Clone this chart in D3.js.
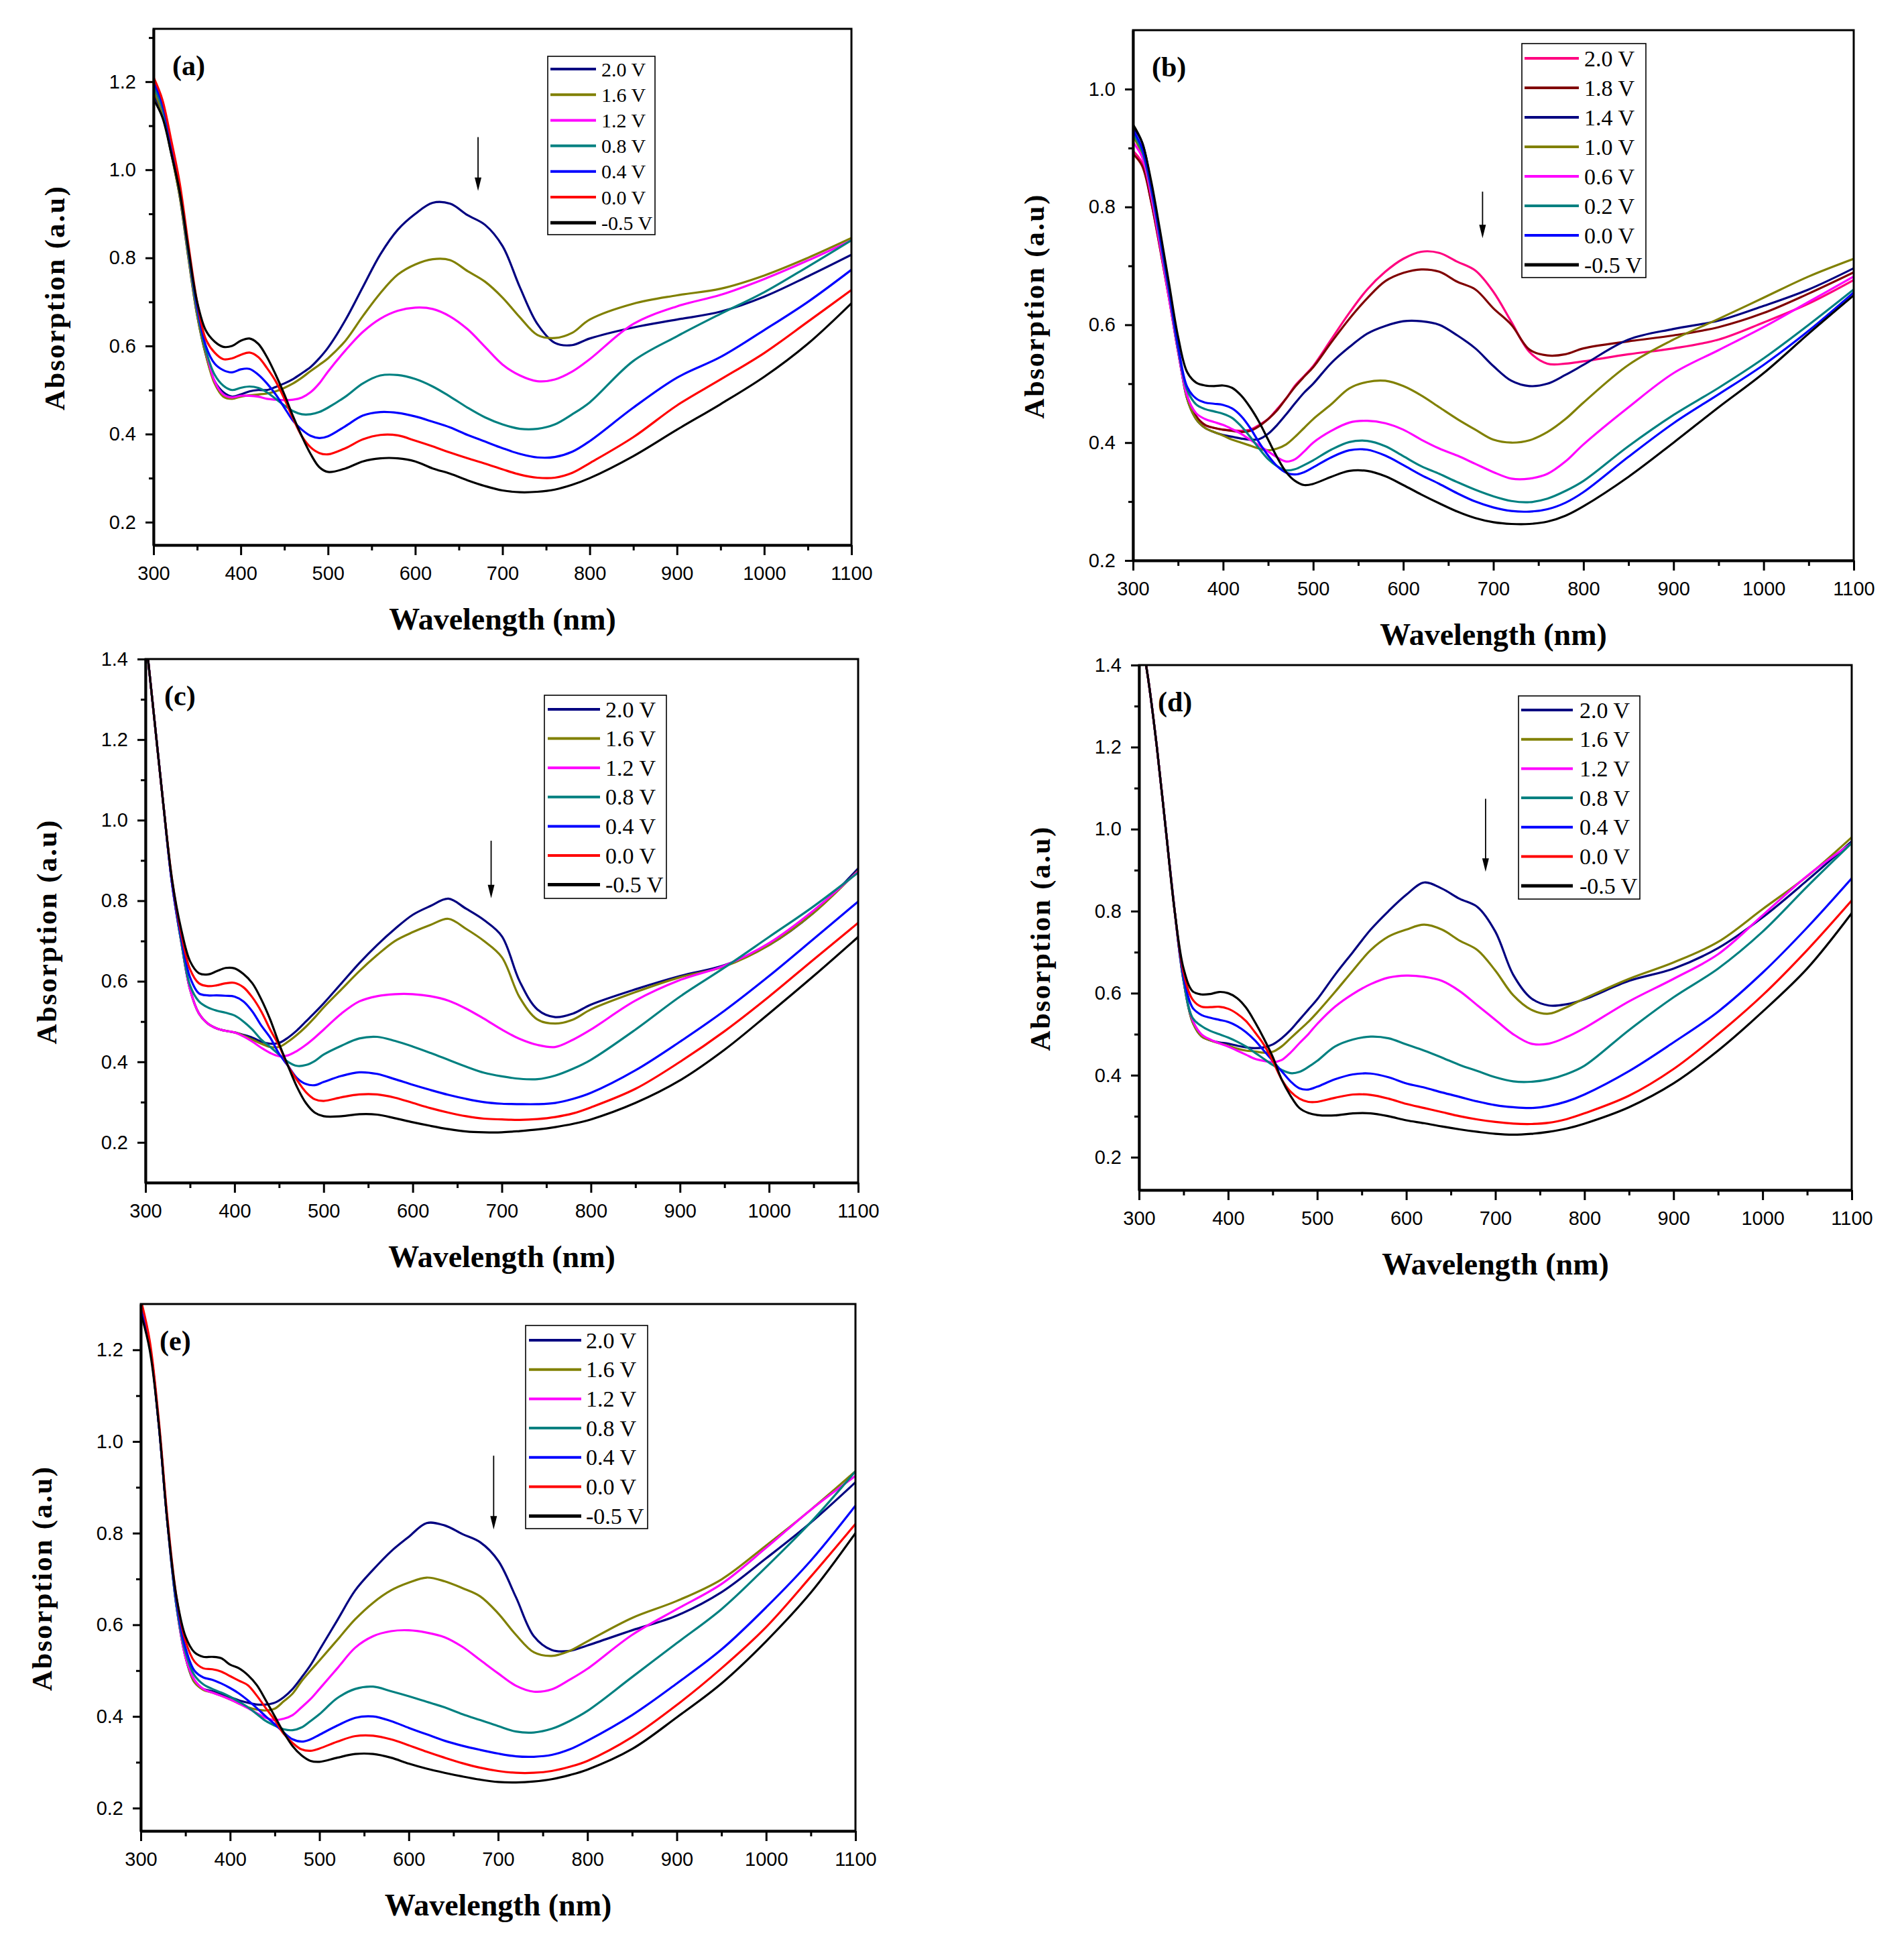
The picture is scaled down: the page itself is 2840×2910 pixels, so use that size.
<!DOCTYPE html>
<html><head><meta charset="utf-8">
<script src="https://cdn.jsdelivr.net/npm/d3@7"></script>
<style>
body{margin:0;background:#fff;}
svg{display:block;}
</style></head><body>
<script>
// ---------------- DATA ----------------
const WAVELENGTH = [300,310,320,330,340,350,360,370,380,390,400,410,420,430,440,450,460,470,480,490,500,520,540,560,580,600,620,640,660,680,700,720,740,760,780,800,850,900,950,1000,1050,1100];

const X_TICKS = [300,400,500,600,700,800,900,1000,1100];
const LEGEND_7 = ["2.0 V","1.6 V","1.2 V","0.8 V","0.4 V","0.0 V","-0.5 V"];
const LEGEND_B = ["2.0 V","1.8 V","1.4 V","1.0 V","0.6 V","0.2 V","0.0 V","-0.5 V"];
const COLORS_7 = ["#000080","#808000","#FF00FF","#008080","#0000FF","#FF0000","#000000"];
const COLORS_B = ["#FF0080","#800000","#000080","#808000","#FF00FF","#008080","#0000FF","#000000"];

const Y_TICKS_A = [0.2,0.4,0.6,0.8,1.0,1.2];
const Y_TICKS_B = [0.2,0.4,0.6,0.8,1.0];
const Y_TICKS_C = [0.2,0.4,0.6,0.8,1.0,1.2,1.4];
const Y_TICKS_D = [0.2,0.4,0.6,0.8,1.0,1.2,1.4];
const Y_TICKS_E = [0.2,0.4,0.6,0.8,1.0,1.2];

// panel (a)
const A_2_0 = [1.17,1.13,1.04,0.94,0.80,0.67,0.58,0.52,0.495,0.485, 0.49,0.497,0.50,0.50,0.507,0.515,0.525,0.538,0.552,0.572, 0.596,0.659,0.734,0.808,0.864,0.90,0.925,0.923,0.897,0.875, 0.827,0.733,0.65,0.607,0.602,0.617,0.642,0.66,0.678,0.712, 0.758,0.807];
const A_1_6 = [1.18,1.13,1.04,0.94,0.80,0.67,0.58,0.515,0.485,0.48, 0.485,0.488,0.49,0.492,0.497,0.505,0.515,0.528,0.543,0.557, 0.572,0.612,0.668,0.72,0.762,0.785,0.797,0.795,0.77,0.746, 0.71,0.665,0.625,0.618,0.63,0.66,0.696,0.715,0.73,0.76, 0.80,0.845];
const A_1_2 = [1.19,1.14,1.05,0.95,0.81,0.68,0.59,0.52,0.49,0.483, 0.487,0.487,0.485,0.48,0.478,0.477,0.478,0.483,0.495,0.515, 0.542,0.59,0.632,0.662,0.68,0.687,0.684,0.667,0.638,0.598, 0.558,0.533,0.52,0.524,0.542,0.57,0.65,0.69,0.716,0.752, 0.794,0.84];
const A_0_8 = [1.19,1.14,1.05,0.95,0.81,0.68,0.59,0.535,0.51,0.50, 0.505,0.508,0.505,0.495,0.48,0.465,0.452,0.445,0.445,0.45, 0.46,0.485,0.515,0.533,0.534,0.525,0.508,0.485,0.46,0.438, 0.422,0.412,0.412,0.422,0.445,0.472,0.566,0.622,0.673,0.722, 0.78,0.84];
const A_0_4 = [1.20,1.15,1.06,0.96,0.82,0.69,0.60,0.56,0.545,0.54, 0.547,0.548,0.535,0.515,0.49,0.46,0.43,0.41,0.396,0.391, 0.395,0.418,0.442,0.45,0.448,0.44,0.428,0.415,0.398,0.383, 0.368,0.355,0.347,0.348,0.36,0.384,0.46,0.528,0.575,0.636, 0.70,0.773];
const A_0_0 = [1.21,1.16,1.07,0.97,0.83,0.70,0.615,0.585,0.57,0.572, 0.58,0.585,0.575,0.55,0.52,0.48,0.435,0.395,0.37,0.357, 0.354,0.368,0.388,0.398,0.397,0.385,0.372,0.358,0.345,0.333, 0.32,0.308,0.301,0.301,0.312,0.334,0.393,0.465,0.524,0.584, 0.655,0.727];
const A_M0_5 = [1.16,1.12,1.04,0.95,0.82,0.70,0.635,0.61,0.598,0.60, 0.612,0.617,0.605,0.575,0.535,0.49,0.44,0.395,0.355,0.325, 0.314,0.322,0.338,0.345,0.345,0.338,0.322,0.31,0.295,0.282, 0.272,0.268,0.269,0.274,0.285,0.30,0.35,0.41,0.468,0.53, 0.605,0.697];

// panel (b)
const B_2_0 = [0.895,0.875,0.81,0.73,0.645,0.555,0.48,0.445,0.43,0.425, 0.422,0.421,0.42,0.422,0.43,0.44,0.457,0.475,0.497,0.513, 0.53,0.575,0.62,0.66,0.69,0.712,0.724,0.722,0.707,0.692, 0.656,0.605,0.554,0.534,0.534,0.538,0.55,0.56,0.575,0.604, 0.636,0.676];
const B_1_8 = [0.89,0.87,0.81,0.73,0.645,0.555,0.48,0.445,0.43,0.425, 0.422,0.42,0.418,0.42,0.428,0.44,0.455,0.475,0.495,0.512, 0.528,0.57,0.61,0.645,0.674,0.688,0.694,0.69,0.673,0.66, 0.628,0.60,0.558,0.548,0.55,0.56,0.572,0.582,0.596,0.62, 0.653,0.689];
const B_1_4 = [0.935,0.91,0.84,0.75,0.655,0.56,0.475,0.44,0.425,0.418, 0.413,0.41,0.407,0.405,0.406,0.415,0.43,0.448,0.467,0.485, 0.50,0.535,0.562,0.585,0.598,0.606,0.606,0.60,0.582,0.56, 0.53,0.505,0.496,0.50,0.515,0.532,0.575,0.593,0.607,0.632, 0.66,0.696];
const B_1_0 = [0.92,0.89,0.83,0.745,0.655,0.56,0.475,0.44,0.425,0.418, 0.412,0.405,0.40,0.395,0.39,0.387,0.39,0.397,0.41,0.425, 0.44,0.465,0.492,0.503,0.505,0.496,0.48,0.46,0.44,0.422, 0.405,0.40,0.404,0.418,0.44,0.468,0.532,0.575,0.61,0.646, 0.682,0.712];
const B_0_6 = [0.91,0.885,0.82,0.735,0.645,0.555,0.48,0.45,0.44,0.435, 0.43,0.423,0.415,0.405,0.395,0.385,0.375,0.368,0.372,0.385, 0.40,0.42,0.434,0.437,0.433,0.422,0.405,0.39,0.378,0.364, 0.35,0.339,0.339,0.347,0.368,0.397,0.46,0.518,0.557,0.596, 0.639,0.682];
const B_0_2 = [0.925,0.895,0.83,0.745,0.655,0.56,0.49,0.465,0.457,0.453, 0.449,0.442,0.428,0.41,0.39,0.372,0.36,0.353,0.355,0.362, 0.37,0.388,0.401,0.403,0.394,0.377,0.36,0.347,0.333,0.32, 0.309,0.301,0.299,0.305,0.318,0.335,0.394,0.447,0.493,0.543, 0.60,0.66];
const B_0_0 = [0.93,0.90,0.835,0.75,0.66,0.565,0.495,0.475,0.468,0.466, 0.464,0.458,0.445,0.425,0.40,0.378,0.36,0.349,0.346,0.35, 0.358,0.375,0.387,0.388,0.378,0.362,0.345,0.33,0.314,0.30, 0.29,0.284,0.283,0.287,0.298,0.316,0.376,0.433,0.482,0.532, 0.59,0.655];
const B_M0_5 = [0.94,0.91,0.845,0.76,0.67,0.58,0.52,0.502,0.497,0.496, 0.497,0.493,0.48,0.46,0.435,0.405,0.375,0.35,0.335,0.328, 0.33,0.342,0.352,0.352,0.343,0.328,0.312,0.297,0.283,0.272, 0.265,0.262,0.262,0.266,0.276,0.292,0.342,0.40,0.46,0.518, 0.585,0.65];

// panel (c)
const C_2_0 = [1.46,1.25,1.04,0.84,0.70,0.58,0.52,0.495,0.483,0.477, 0.473,0.467,0.46,0.45,0.445,0.447,0.46,0.478,0.50,0.522, 0.545,0.595,0.645,0.69,0.73,0.765,0.787,0.805,0.78,0.752, 0.712,0.60,0.53,0.511,0.52,0.542,0.58,0.613,0.64,0.69, 0.77,0.88];
const C_1_6 = [1.46,1.25,1.04,0.84,0.70,0.58,0.52,0.495,0.483,0.477, 0.473,0.465,0.455,0.445,0.437,0.437,0.45,0.467,0.487,0.51, 0.535,0.58,0.625,0.665,0.70,0.722,0.74,0.755,0.73,0.70, 0.66,0.56,0.505,0.495,0.505,0.53,0.573,0.61,0.637,0.69, 0.77,0.875];
const C_1_2 = [1.46,1.25,1.04,0.84,0.70,0.58,0.52,0.495,0.483,0.477, 0.473,0.463,0.45,0.435,0.422,0.414,0.416,0.427,0.442,0.46, 0.48,0.52,0.55,0.563,0.568,0.568,0.563,0.552,0.532,0.507, 0.48,0.457,0.442,0.437,0.455,0.48,0.552,0.603,0.639,0.695, 0.776,0.873];
const C_0_8 = [1.46,1.25,1.04,0.84,0.70,0.59,0.55,0.535,0.527,0.522, 0.515,0.50,0.48,0.455,0.437,0.418,0.40,0.39,0.392,0.402, 0.418,0.44,0.458,0.462,0.452,0.438,0.422,0.405,0.388,0.373, 0.364,0.358,0.357,0.366,0.383,0.405,0.48,0.562,0.634,0.71, 0.786,0.87];
const C_0_4 = [1.46,1.25,1.04,0.84,0.71,0.61,0.57,0.565,0.565,0.564, 0.562,0.55,0.525,0.49,0.46,0.42,0.39,0.36,0.345,0.342, 0.35,0.365,0.374,0.37,0.357,0.343,0.33,0.318,0.308,0.30, 0.296,0.295,0.295,0.298,0.308,0.323,0.379,0.45,0.527,0.613, 0.705,0.798];
const C_0_0 = [1.46,1.25,1.04,0.85,0.72,0.63,0.595,0.588,0.59,0.595, 0.596,0.585,0.56,0.525,0.48,0.44,0.39,0.355,0.325,0.307, 0.303,0.312,0.319,0.319,0.311,0.298,0.285,0.274,0.265,0.259, 0.257,0.256,0.258,0.263,0.272,0.287,0.333,0.40,0.476,0.562, 0.654,0.745];
const C_M0_5 = [1.46,1.25,1.04,0.85,0.73,0.65,0.62,0.617,0.625,0.633, 0.632,0.618,0.595,0.555,0.505,0.445,0.39,0.338,0.298,0.274, 0.265,0.265,0.27,0.269,0.26,0.25,0.241,0.233,0.227,0.225, 0.225,0.228,0.232,0.238,0.246,0.257,0.298,0.354,0.43,0.52, 0.613,0.71];

// panel (d)
const D_2_0 = [1.5,1.37,1.2,1.0,0.8,0.63,0.53,0.495,0.485,0.48, 0.477,0.472,0.468,0.466,0.468,0.475,0.49,0.51,0.535,0.56, 0.585,0.645,0.70,0.755,0.80,0.84,0.87,0.855,0.83,0.81, 0.75,0.645,0.588,0.57,0.573,0.585,0.63,0.66,0.71,0.785, 0.875,0.97];
const D_1_6 = [1.5,1.37,1.2,1.0,0.8,0.63,0.53,0.495,0.485,0.478, 0.472,0.465,0.46,0.458,0.455,0.457,0.47,0.49,0.51,0.53, 0.553,0.603,0.655,0.705,0.738,0.755,0.767,0.755,0.728,0.705, 0.655,0.595,0.56,0.55,0.566,0.587,0.635,0.675,0.725,0.805, 0.885,0.98];
const D_1_2 = [1.5,1.37,1.2,1.0,0.8,0.63,0.535,0.50,0.487,0.478, 0.47,0.46,0.45,0.44,0.435,0.432,0.437,0.455,0.478,0.50, 0.525,0.567,0.598,0.622,0.638,0.643,0.64,0.63,0.605,0.57, 0.535,0.50,0.477,0.477,0.493,0.515,0.58,0.635,0.695,0.79, 0.886,0.966];
const D_0_8 = [1.5,1.37,1.2,1.0,0.8,0.63,0.54,0.52,0.508,0.50, 0.492,0.482,0.47,0.455,0.44,0.425,0.413,0.405,0.408,0.42, 0.435,0.47,0.487,0.494,0.49,0.475,0.46,0.443,0.425,0.41, 0.395,0.385,0.384,0.39,0.403,0.423,0.51,0.59,0.66,0.75, 0.86,0.966];
const D_0_4 = [1.5,1.37,1.2,1.0,0.8,0.64,0.565,0.547,0.54,0.535, 0.53,0.52,0.505,0.485,0.46,0.435,0.41,0.385,0.368,0.365, 0.372,0.39,0.402,0.404,0.395,0.38,0.37,0.358,0.347,0.336, 0.327,0.322,0.32,0.325,0.336,0.353,0.41,0.48,0.555,0.65, 0.76,0.88];
const D_0_0 = [1.5,1.37,1.2,1.0,0.8,0.65,0.585,0.567,0.566,0.567, 0.562,0.55,0.532,0.505,0.475,0.435,0.39,0.36,0.343,0.335, 0.335,0.345,0.353,0.352,0.343,0.33,0.32,0.31,0.30,0.292, 0.286,0.282,0.281,0.284,0.293,0.307,0.35,0.415,0.50,0.595, 0.705,0.826];
const D_M0_5 = [1.5,1.37,1.2,1.0,0.8,0.66,0.605,0.597,0.598,0.603, 0.60,0.588,0.565,0.53,0.49,0.445,0.39,0.35,0.32,0.308, 0.303,0.302,0.307,0.307,0.30,0.29,0.283,0.275,0.268,0.262, 0.257,0.255,0.257,0.262,0.27,0.282,0.322,0.38,0.46,0.555, 0.66,0.795];

// panel (e)
const E_2_0 = [1.29,1.21,1.04,0.82,0.64,0.53,0.475,0.46,0.455,0.448, 0.442,0.435,0.43,0.426,0.426,0.43,0.442,0.46,0.485,0.512, 0.545,0.61,0.675,0.72,0.76,0.792,0.822,0.817,0.798,0.78, 0.74,0.66,0.575,0.545,0.543,0.555,0.588,0.62,0.671,0.745, 0.823,0.911];
const E_1_6 = [1.29,1.21,1.04,0.82,0.64,0.53,0.475,0.458,0.452,0.445, 0.437,0.428,0.42,0.415,0.413,0.417,0.433,0.45,0.477,0.5, 0.522,0.567,0.612,0.648,0.675,0.692,0.703,0.695,0.68,0.662, 0.625,0.578,0.54,0.532,0.543,0.564,0.615,0.652,0.699,0.773, 0.851,0.935];
const E_1_2 = [1.29,1.21,1.04,0.82,0.64,0.53,0.48,0.46,0.452,0.445, 0.437,0.428,0.418,0.407,0.397,0.392,0.395,0.403,0.42,0.438, 0.46,0.505,0.55,0.575,0.586,0.588,0.583,0.573,0.552,0.523, 0.494,0.467,0.454,0.459,0.48,0.504,0.578,0.634,0.689,0.768, 0.851,0.925];
const E_0_8 = [1.29,1.21,1.04,0.82,0.64,0.54,0.49,0.47,0.46,0.452, 0.443,0.432,0.42,0.405,0.39,0.38,0.372,0.37,0.376,0.39, 0.405,0.44,0.46,0.465,0.455,0.444,0.432,0.42,0.405,0.392, 0.379,0.367,0.365,0.373,0.39,0.412,0.486,0.56,0.634,0.726, 0.824,0.935];
const E_0_4 = [1.29,1.21,1.04,0.82,0.65,0.55,0.50,0.485,0.48,0.472, 0.462,0.45,0.435,0.418,0.40,0.383,0.365,0.35,0.345,0.35, 0.36,0.38,0.397,0.40,0.39,0.375,0.361,0.347,0.336,0.327, 0.319,0.313,0.312,0.316,0.328,0.347,0.403,0.472,0.546,0.638, 0.74,0.86];
const E_0_0 = [1.31,1.22,1.05,0.83,0.66,0.565,0.52,0.505,0.503,0.498, 0.488,0.478,0.468,0.445,0.418,0.392,0.362,0.342,0.328,0.325, 0.33,0.345,0.357,0.358,0.35,0.337,0.323,0.31,0.298,0.288, 0.281,0.277,0.277,0.281,0.29,0.303,0.355,0.425,0.505,0.595, 0.705,0.82];
const E_M0_5 = [1.28,1.2,1.04,0.82,0.66,0.575,0.54,0.53,0.53,0.527, 0.513,0.505,0.49,0.468,0.435,0.40,0.365,0.335,0.315,0.303, 0.301,0.31,0.318,0.318,0.31,0.297,0.286,0.277,0.269,0.262, 0.257,0.256,0.258,0.263,0.272,0.284,0.329,0.398,0.472,0.564, 0.67,0.80];

// arrow annotations [wavelength, value from, value to]
const ARROW_A = [672, 1.074, 0.952];
const ARROW_B = [688, 0.826, 0.747];
const ARROW_C = [688, 0.949, 0.806];
const ARROW_D = [689, 1.074, 0.896];
const ARROW_E = [695, 0.969, 0.808];

// ---------------- LAYOUT ----------------
const PANELS = [
  {label:"(a)", series:[A_2_0,A_1_6,A_1_2,A_0_8,A_0_4,A_0_0,A_M0_5], names:LEGEND_7, colors:COLORS_7,
   yDomain:[0.148,1.32], yTicks:Y_TICKS_A, arrow:ARROW_A,
   box:{l:229,r:1270,t:43,b:813},
   leg:{x:817,y:84,w:160,h:266,row0:103,step:38.2,l0:821,l1:889,tx:897,fs:30}},
  {label:"(b)", series:[B_2_0,B_1_8,B_1_4,B_1_0,B_0_6,B_0_2,B_0_0,B_M0_5], names:LEGEND_B, colors:COLORS_B,
   yDomain:[0.2,1.1], yTicks:Y_TICKS_B, arrow:ARROW_B,
   box:{l:1690,r:2765,t:45,b:836},
   leg:{x:2270,y:65,w:185,h:349,row0:87,step:44,l0:2274,l1:2355,tx:2363,fs:34}},
  {label:"(c)", series:[C_2_0,C_1_6,C_1_2,C_0_8,C_0_4,C_0_0,C_M0_5], names:LEGEND_7, colors:COLORS_7,
   yDomain:[0.1,1.4], yTicks:Y_TICKS_C, arrow:ARROW_C,
   box:{l:217,r:1280,t:983,b:1764},
   leg:{x:812,y:1037,w:182,h:303,row0:1058,step:43.6,l0:817,l1:895,tx:903,fs:34}},
  {label:"(d)", series:[D_2_0,D_1_6,D_1_2,D_0_8,D_0_4,D_0_0,D_M0_5], names:LEGEND_7, colors:COLORS_7,
   yDomain:[0.12,1.4], yTicks:Y_TICKS_D, arrow:ARROW_D,
   box:{l:1699,r:2762,t:992,b:1775},
   leg:{x:2265,y:1038,w:181,h:303,row0:1059,step:43.7,l0:2269,l1:2346,tx:2356,fs:34}},
  {label:"(e)", series:[E_2_0,E_1_6,E_1_2,E_0_8,E_0_4,E_0_0,E_M0_5], names:LEGEND_7, colors:COLORS_7,
   yDomain:[0.15,1.3], yTicks:Y_TICKS_E, arrow:ARROW_E,
   box:{l:210,r:1276,t:1945,b:2731},
   leg:{x:784,y:1977,w:182,h:303,row0:1999,step:43.7,l0:789,l1:867,tx:874,fs:34}},
];

const SANS = "'Liberation Sans', Arial, sans-serif";
const SERIF = "'Liberation Serif', 'Times New Roman', serif";

const svg = d3.select("body").append("svg")
  .attr("width", 2840).attr("height", 2910)
  .attr("viewBox", "0 0 2840 2910");
svg.append("rect").attr("width",2840).attr("height",2910).attr("fill","#fff");
const defs = svg.append("defs");

PANELS.forEach((p, pi) => {
  const B = p.box;
  const x = d3.scaleLinear().domain([300,1100]).range([B.l, B.r]);
  const y = d3.scaleLinear().domain(p.yDomain).range([B.b, B.t]);
  const g = svg.append("g");

  const clipId = "clip" + pi;
  defs.append("clipPath").attr("id", clipId)
    .append("rect").attr("x",B.l).attr("y",B.t).attr("width",B.r-B.l).attr("height",B.b-B.t);

  // curves
  const line = d3.line()
    .x((d,i) => x(WAVELENGTH[i]))
    .y(d => y(d))
    .curve(d3.curveCatmullRom.alpha(0.5));
  const cg = g.append("g").attr("clip-path", `url(#${clipId})`);
  p.series.forEach((s, si) => {
    cg.append("path").attr("d", line(s))
      .attr("fill","none").attr("stroke", p.colors[si])
      .attr("stroke-width", 3.2).attr("stroke-linejoin","round");
  });

  // frame
  g.append("rect").attr("x",B.l).attr("y",B.t).attr("width",B.r-B.l).attr("height",B.b-B.t)
    .attr("fill","none").attr("stroke","#000").attr("stroke-width",3);

  // x axis (major + minor)
  g.append("g").attr("transform",`translate(0,${B.b})`)
    .call(d3.axisBottom(x).tickValues(X_TICKS).tickSize(15).tickSizeOuter(0).tickPadding(16).tickFormat(d3.format("d")));
  const xMinor = d3.range(350, 1100, 100);
  g.append("g").attr("transform",`translate(0,${B.b})`)
    .call(d3.axisBottom(x).tickValues(xMinor).tickSize(8).tickSizeOuter(0).tickFormat(""))
    .call(a => a.select(".domain").remove());

  // y axis (major + minor)
  g.append("g").attr("transform",`translate(${B.l},0)`)
    .call(d3.axisLeft(y).tickValues(p.yTicks).tickSize(12).tickSizeOuter(0).tickPadding(14).tickFormat(d3.format(".1f")));
  const yMinor = d3.range(1, 15).map(k => k/10)
    .filter(v => v > p.yDomain[0] + 0.01 && v < p.yDomain[1] - 0.005 && !p.yTicks.some(t => Math.abs(t - v) < 1e-6));
  g.append("g").attr("transform",`translate(${B.l},0)`)
    .call(d3.axisLeft(y).tickValues(yMinor).tickSize(7).tickSizeOuter(0).tickFormat(""))
    .call(a => a.select(".domain").remove());

  g.selectAll(".tick line").attr("stroke","#000").attr("stroke-width",3);
  g.selectAll(".domain").attr("stroke","#000").attr("stroke-width",4);
  g.selectAll(".tick text").attr("fill","#000")
    .style("font-family", SANS).style("font-size","29px");

  // axis titles
  g.append("text").attr("x",(B.l+B.r)/2).attr("y",B.b+110)
    .attr("text-anchor","middle").attr("dominant-baseline","central")
    .style("font-family",SERIF).style("font-weight","bold").style("font-size","46px")
    .text("Wavelength (nm)");
  const ycx = B.l - 147, ycy = (B.t+B.b)/2 + 16;
  g.append("text").attr("transform",`translate(${ycx},${ycy}) rotate(-90)`)
    .attr("text-anchor","middle").attr("dominant-baseline","central")
    .style("font-family",SERIF).style("font-weight","bold").style("font-size","42px")
    .style("letter-spacing","2.5px")
    .text("Absorption (a.u)");

  // panel label
  g.append("text").attr("x",B.l+28).attr("y",B.t+55)
    .attr("dominant-baseline","central")
    .style("font-family",SERIF).style("font-weight","bold").style("font-size","42px")
    .text(p.label);

  // legend
  const L = p.leg;
  const lg = g.append("g");
  lg.append("rect").attr("x",L.x).attr("y",L.y).attr("width",L.w).attr("height",L.h)
    .attr("fill","#fff").attr("stroke","#000").attr("stroke-width",1.6);
  p.names.forEach((n, i) => {
    const ry = L.row0 + i*L.step;
    lg.append("line").attr("x1",L.l0).attr("x2",L.l1).attr("y1",ry).attr("y2",ry)
      .attr("stroke",p.colors[i]).attr("stroke-width", i === p.names.length-1 ? 5 : 4);
    lg.append("text").attr("x",L.tx).attr("y",ry).attr("dominant-baseline","central")
      .style("font-family",SERIF).style("font-size",L.fs+"px").text(n);
  });

  // arrow (shaft + triangular head)
  const [aw, a0, a1] = p.arrow;
  const ax = x(aw), ay0 = y(a0), ay1 = y(a1);
  g.append("line").attr("x1",ax).attr("x2",ax).attr("y1",ay0).attr("y2",ay1-12)
    .attr("stroke","#000").attr("stroke-width",1.8);
  g.append("path").attr("d",`M${ax-5},${ay1-20} L${ax+5},${ay1-20} L${ax},${ay1} Z`).attr("fill","#000");
});
</script>
</body></html>
